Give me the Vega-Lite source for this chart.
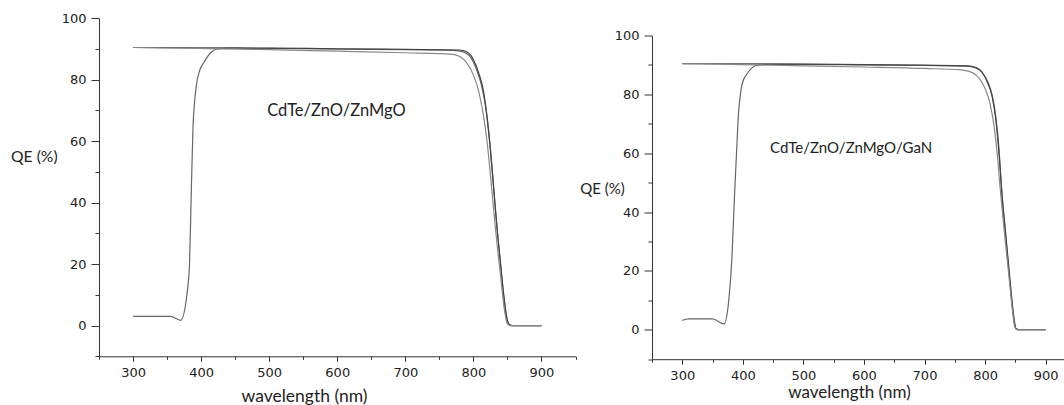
{
  "$schema": "https://vega.github.io/schema/vega-lite/v6.json",
  "padding": {"left": 10, "top": 12, "right": 0, "bottom": 0},
  "spacing": 2,
  "background": "white",
  "config": {
    "view": {"stroke": null},
    "axis": {
      "grid": false,
      "domainColor": "#333",
      "tickColor": "#333",
      "domainWidth": 1,
      "tickWidth": 1,
      "labelFont": "DejaVu Sans",
      "labelFontSize": 13,
      "labelColor": "#222",
      "labelFlush": false,
      "labelOverlap": false,
      "titleFont": "Lato",
      "titleFontSize": 15,
      "titleFontWeight": "normal",
      "titleColor": "#222"
    }
  },
  "datasets": {
    "left": [
      {"series": "A", "wl": 300, "qe": 3.0},
      {"series": "A", "wl": 355, "qe": 3.0},
      {"series": "A", "wl": 370, "qe": 1.7},
      {"series": "A", "wl": 380, "qe": 11.7},
      {"series": "A", "wl": 383, "qe": 20},
      {"series": "A", "wl": 385, "qe": 38},
      {"series": "A", "wl": 388, "qe": 64},
      {"series": "A", "wl": 393, "qe": 78},
      {"series": "A", "wl": 398, "qe": 83},
      {"series": "A", "wl": 404, "qe": 85.5},
      {"series": "A", "wl": 414, "qe": 88.7},
      {"series": "A", "wl": 426, "qe": 90.0},
      {"series": "A", "wl": 450, "qe": 90.2},
      {"series": "A", "wl": 500, "qe": 90.1},
      {"series": "A", "wl": 600, "qe": 89.9},
      {"series": "A", "wl": 700, "qe": 89.7},
      {"series": "A", "wl": 770, "qe": 89.5},
      {"series": "A", "wl": 785, "qe": 89.0},
      {"series": "A", "wl": 795, "qe": 87.5},
      {"series": "A", "wl": 805, "qe": 83},
      {"series": "A", "wl": 812, "qe": 78},
      {"series": "A", "wl": 818, "qe": 71},
      {"series": "A", "wl": 823, "qe": 62},
      {"series": "A", "wl": 828, "qe": 50},
      {"series": "A", "wl": 833, "qe": 36},
      {"series": "A", "wl": 838, "qe": 24},
      {"series": "A", "wl": 843, "qe": 13},
      {"series": "A", "wl": 848, "qe": 4},
      {"series": "A", "wl": 852, "qe": 0.5},
      {"series": "A", "wl": 858, "qe": 0},
      {"series": "A", "wl": 900, "qe": 0},
      {"series": "B", "wl": 300, "qe": 90.4},
      {"series": "B", "wl": 400, "qe": 90.3},
      {"series": "B", "wl": 500, "qe": 90.2},
      {"series": "B", "wl": 600, "qe": 90.0},
      {"series": "B", "wl": 700, "qe": 89.8},
      {"series": "B", "wl": 780, "qe": 89.6},
      {"series": "B", "wl": 790, "qe": 89.0},
      {"series": "B", "wl": 800, "qe": 86.5},
      {"series": "B", "wl": 808, "qe": 82},
      {"series": "B", "wl": 815, "qe": 76},
      {"series": "B", "wl": 820, "qe": 68},
      {"series": "B", "wl": 825, "qe": 57},
      {"series": "B", "wl": 830, "qe": 44},
      {"series": "B", "wl": 835, "qe": 31},
      {"series": "B", "wl": 840, "qe": 20},
      {"series": "B", "wl": 845, "qe": 9},
      {"series": "B", "wl": 850, "qe": 1.5},
      {"series": "B", "wl": 855, "qe": 0},
      {"series": "B", "wl": 900, "qe": 0},
      {"series": "C", "wl": 300, "qe": 90.4},
      {"series": "C", "wl": 400, "qe": 90.1},
      {"series": "C", "wl": 500, "qe": 89.7},
      {"series": "C", "wl": 600, "qe": 89.2},
      {"series": "C", "wl": 700, "qe": 88.7},
      {"series": "C", "wl": 770, "qe": 88.2},
      {"series": "C", "wl": 780, "qe": 87.5},
      {"series": "C", "wl": 790, "qe": 85.5},
      {"series": "C", "wl": 800, "qe": 81.5},
      {"series": "C", "wl": 808, "qe": 76},
      {"series": "C", "wl": 815, "qe": 68},
      {"series": "C", "wl": 820, "qe": 60},
      {"series": "C", "wl": 825, "qe": 49},
      {"series": "C", "wl": 830, "qe": 37},
      {"series": "C", "wl": 835, "qe": 26},
      {"series": "C", "wl": 840, "qe": 16},
      {"series": "C", "wl": 845, "qe": 6},
      {"series": "C", "wl": 850, "qe": 0.5},
      {"series": "C", "wl": 855, "qe": 0},
      {"series": "C", "wl": 900, "qe": 0}
    ],
    "right": [
      {"series": "A", "wl": 300, "qe": 3.2},
      {"series": "A", "wl": 310, "qe": 3.7},
      {"series": "A", "wl": 350, "qe": 3.7},
      {"series": "A", "wl": 369, "qe": 2.0},
      {"series": "A", "wl": 377, "qe": 10.5},
      {"series": "A", "wl": 382, "qe": 24.5},
      {"series": "A", "wl": 386, "qe": 44.5},
      {"series": "A", "wl": 390, "qe": 62},
      {"series": "A", "wl": 393, "qe": 74},
      {"series": "A", "wl": 396, "qe": 80},
      {"series": "A", "wl": 399, "qe": 83.6},
      {"series": "A", "wl": 407, "qe": 87},
      {"series": "A", "wl": 415, "qe": 89},
      {"series": "A", "wl": 426, "qe": 90.0},
      {"series": "A", "wl": 450, "qe": 90.2},
      {"series": "A", "wl": 500, "qe": 90.2},
      {"series": "A", "wl": 600, "qe": 90.0},
      {"series": "A", "wl": 700, "qe": 89.8},
      {"series": "A", "wl": 770, "qe": 89.6},
      {"series": "A", "wl": 785, "qe": 89.0},
      {"series": "A", "wl": 795, "qe": 87.5},
      {"series": "A", "wl": 805, "qe": 84},
      {"series": "A", "wl": 812, "qe": 79.5},
      {"series": "A", "wl": 818, "qe": 72},
      {"series": "A", "wl": 823, "qe": 61.5},
      {"series": "A", "wl": 828, "qe": 45.5},
      {"series": "A", "wl": 833, "qe": 34},
      {"series": "A", "wl": 838, "qe": 23},
      {"series": "A", "wl": 843, "qe": 12},
      {"series": "A", "wl": 848, "qe": 3},
      {"series": "A", "wl": 851, "qe": 0.3},
      {"series": "A", "wl": 856, "qe": 0},
      {"series": "A", "wl": 900, "qe": 0},
      {"series": "B", "wl": 300, "qe": 90.4},
      {"series": "B", "wl": 400, "qe": 90.4},
      {"series": "B", "wl": 500, "qe": 90.3},
      {"series": "B", "wl": 600, "qe": 90.1},
      {"series": "B", "wl": 700, "qe": 89.9},
      {"series": "B", "wl": 770, "qe": 89.7},
      {"series": "B", "wl": 785, "qe": 89.1},
      {"series": "B", "wl": 795, "qe": 87.6},
      {"series": "B", "wl": 805, "qe": 83.5},
      {"series": "B", "wl": 812, "qe": 79},
      {"series": "B", "wl": 818, "qe": 71},
      {"series": "B", "wl": 823, "qe": 60},
      {"series": "B", "wl": 828, "qe": 46},
      {"series": "B", "wl": 833, "qe": 35},
      {"series": "B", "wl": 838, "qe": 24},
      {"series": "B", "wl": 843, "qe": 13},
      {"series": "B", "wl": 848, "qe": 3.5},
      {"series": "B", "wl": 851, "qe": 0.4},
      {"series": "B", "wl": 856, "qe": 0},
      {"series": "B", "wl": 900, "qe": 0},
      {"series": "C", "wl": 300, "qe": 90.4},
      {"series": "C", "wl": 400, "qe": 90.1},
      {"series": "C", "wl": 500, "qe": 89.7},
      {"series": "C", "wl": 600, "qe": 89.3},
      {"series": "C", "wl": 700, "qe": 88.8},
      {"series": "C", "wl": 760, "qe": 88.3},
      {"series": "C", "wl": 780, "qe": 87.3},
      {"series": "C", "wl": 790, "qe": 85.5},
      {"series": "C", "wl": 800, "qe": 82},
      {"series": "C", "wl": 808, "qe": 77},
      {"series": "C", "wl": 815, "qe": 69},
      {"series": "C", "wl": 820, "qe": 60},
      {"series": "C", "wl": 825, "qe": 48},
      {"series": "C", "wl": 830, "qe": 37},
      {"series": "C", "wl": 835, "qe": 27},
      {"series": "C", "wl": 840, "qe": 17},
      {"series": "C", "wl": 845, "qe": 7},
      {"series": "C", "wl": 849, "qe": 1},
      {"series": "C", "wl": 853, "qe": 0},
      {"series": "C", "wl": 900, "qe": 0}
    ],
    "leftText": [{"label": "CdTe/ZnO/ZnMgO", "wl": 497, "qe": 69.6}],
    "rightText": [{"label": "CdTe/ZnO/ZnMgO/GaN", "wl": 445, "qe": 61.8}]
  },
  "hconcat": [
    {
      "width": 476.5,
      "height": 338.3,
      "layer": [
        {
          "data": {"name": "left"},
          "mark": {"type": "line", "strokeWidth": 1.2, "interpolate": "monotone"},
          "encoding": {
            "x": {"field": "wl", "type": "quantitative",
              "scale": {"domain": [250, 950], "nice": false, "zero": false},
              "axis": {"values": [300, 400, 500, 600, 700, 800, 900], "tickSize": 5, "labelPadding": 5,
                "title": "wavelength (nm)", "titleFontSize": 17.5, "titleX": 205, "titleY": 40, "titleAlign": "center", "titleBaseline": "middle"}},
            "y": {"field": "qe", "type": "quantitative",
              "scale": {"domain": [-10, 100], "nice": false, "zero": false},
              "axis": {"values": [0, 20, 40, 60, 80, 100], "tickSize": 8, "labelPadding": 5,
                "title": "QE (%)", "titleFontSize": 15.7, "titleAngle": 0, "titleX": -88.5, "titleY": 138.3, "titleAlign": "left", "titleBaseline": "middle"}},
            "color": {"field": "series", "type": "nominal",
              "scale": {"domain": ["A", "B", "C"], "range": ["#666666", "#444444", "#888888"]}, "legend": null}
          }
        },
        {
          "data": {"name": "leftText"},
          "mark": {"type": "text", "align": "left", "baseline": "middle", "font": "Lato", "fontSize": 16.5, "color": "#222"},
          "encoding": {
            "x": {"field": "wl", "type": "quantitative",
              "axis": {"values": [250, 350, 450, 550, 650, 750, 850, 950], "labels": false, "tickSize": 3, "domain": false, "title": null, "orient": "bottom"}},
            "y": {"field": "qe", "type": "quantitative",
              "axis": {"values": [-10, 10, 30, 50, 70, 90], "labels": false, "tickSize": 4, "domain": false, "title": null, "orient": "left"}},
            "text": {"field": "label"}
          }
        }
      ],
      "resolve": {"axis": {"x": "independent", "y": "independent"}}
    },
    {
      "spacing": 10.5,
      "vconcat": [
        {
          "width": 413.6,
          "height": 1,
          "data": {"values": []},
          "mark": {"type": "point"},
          "encoding": {}
        },
        {
          "width": 413.6,
          "height": 323.7,
          "layer": [
            {
              "data": {"name": "right"},
              "mark": {"type": "line", "strokeWidth": 1.2, "interpolate": "monotone"},
              "encoding": {
                "x": {"field": "wl", "type": "quantitative",
                  "scale": {"domain": [250, 933], "nice": false, "zero": false},
                  "axis": {"values": [300, 400, 500, 600, 700, 800, 900], "tickSize": 5, "labelPadding": 5,
                    "title": "wavelength (nm)", "titleFontSize": 17, "titleX": 197, "titleY": 33, "titleAlign": "center", "titleBaseline": "middle"}},
                "y": {"field": "qe", "type": "quantitative",
                  "scale": {"domain": [-10, 100], "nice": false, "zero": false},
                  "axis": {"values": [0, 20, 40, 60, 80, 100], "tickSize": 8, "labelPadding": 5,
                    "title": "QE (%)", "titleFontSize": 15, "titleAngle": 0, "titleX": -72.3, "titleY": 153.3, "titleAlign": "left", "titleBaseline": "middle"}},
                "color": {"field": "series", "type": "nominal",
                  "scale": {"domain": ["A", "B", "C"], "range": ["#666666", "#444444", "#888888"]}, "legend": null}
              }
            },
            {
              "data": {"name": "rightText"},
              "mark": {"type": "text", "align": "left", "baseline": "middle", "font": "Lato", "fontSize": 15, "color": "#222"},
              "encoding": {
                "x": {"field": "wl", "type": "quantitative",
                  "axis": {"values": [250, 350, 450, 550, 650, 750, 850], "labels": false, "tickSize": 3, "domain": false, "title": null, "orient": "bottom"}},
                "y": {"field": "qe", "type": "quantitative",
                  "axis": {"values": [-10, 10, 30, 50, 70, 90], "labels": false, "tickSize": 4, "domain": false, "title": null, "orient": "left"}},
                "text": {"field": "label"}
              }
            }
          ],
          "resolve": {"axis": {"x": "independent", "y": "independent"}}
        }
      ]
    }
  ]
}
